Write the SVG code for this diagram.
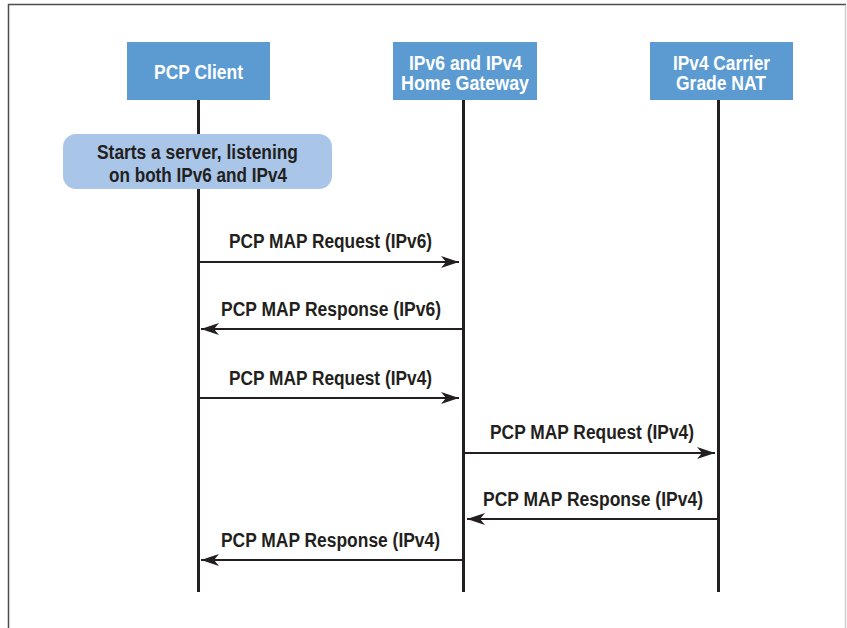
<svg xmlns="http://www.w3.org/2000/svg" width="847" height="628" viewBox="0 0 847 628">
  <style>
    .actor { fill: #5b9bd2; }
    .actor-label { font-family: "Liberation Sans Narrow", "Liberation Sans", Arial, sans-serif; font-weight: bold; font-size: 19.5px; fill: #ffffff; text-anchor: middle; }
    .lifeline { stroke: #231f20; stroke-width: 3; fill: none; }
    .msg { stroke: #231f20; stroke-width: 2; fill: none; marker-end: url(#head); }
    .msg-label { font-family: "Liberation Sans Narrow", "Liberation Sans", Arial, sans-serif; font-weight: bold; font-size: 19.5px; fill: #231f20; text-anchor: middle; }
    .note { fill: #a9c5e8; }
  </style>
  <defs>
    <marker id="head" viewBox="0 0 18 12" refX="18" refY="6" markerWidth="18" markerHeight="12" markerUnits="userSpaceOnUse" orient="auto">
      <path d="M0,0 L18,6 L0,12 L5,6 Z" fill="#231f20"/>
    </marker>
  </defs>

  <!-- page frame -->
  <rect x="0" y="0" width="847" height="628" fill="#ffffff"/>
  <path d="M8.5,628 L8.5,4.5 L846,4.5" stroke="#4d4d4f" stroke-width="1.5" fill="none"/>
  <line x1="845.5" y1="5" x2="845.5" y2="628" stroke="#cfcfcf" stroke-width="1.5"/>

  <!-- lifelines -->
  <g id="lifelines">
    <line class="lifeline" x1="198.5" y1="99" x2="198.5" y2="592"/>
    <line class="lifeline" x1="463.5" y1="99" x2="463.5" y2="592"/>
    <line class="lifeline" x1="718.5" y1="99" x2="718.5" y2="592"/>
  </g>

  <g id="pcp-client">
    <rect class="actor" x="127" y="42" width="143" height="58"/>
    <text class="actor-label" x="198.5" y="79" textLength="89" lengthAdjust="spacingAndGlyphs">PCP Client</text>
  </g>

  <g id="home-gateway">
    <rect class="actor" x="393" y="42" width="144" height="58"/>
    <text class="actor-label" x="465.5" y="70" textLength="113" lengthAdjust="spacingAndGlyphs">IPv6 and IPv4</text>
    <text class="actor-label" x="465" y="90" textLength="128" lengthAdjust="spacingAndGlyphs">Home Gateway</text>
  </g>

  <g id="carrier-nat">
    <rect class="actor" x="650" y="42" width="143" height="58"/>
    <text class="actor-label" x="721.5" y="70" textLength="97" lengthAdjust="spacingAndGlyphs">IPv4 Carrier</text>
    <text class="actor-label" x="721" y="90" textLength="90" lengthAdjust="spacingAndGlyphs">Grade NAT</text>
  </g>

  <g id="server-note">
    <rect class="note" x="63" y="134" width="269" height="55" rx="13" ry="13"/>
    <text class="msg-label" x="197.5" y="159" textLength="201" lengthAdjust="spacingAndGlyphs">Starts a server, listening</text>
    <text class="msg-label" x="198" y="182" textLength="178" lengthAdjust="spacingAndGlyphs">on both IPv6 and IPv4</text>
  </g>

  <g id="connectors">
    <line class="msg" x1="200" y1="262" x2="459" y2="262"/>
    <text class="msg-label" x="330.5" y="248" textLength="203" lengthAdjust="spacingAndGlyphs">PCP MAP Request (IPv6)</text>

    <line class="msg" x1="462" y1="329" x2="201" y2="329"/>
    <text class="msg-label" x="331" y="316" textLength="220" lengthAdjust="spacingAndGlyphs">PCP MAP Response (IPv6)</text>

    <line class="msg" x1="200" y1="398" x2="459" y2="398"/>
    <text class="msg-label" x="330.5" y="385" textLength="203" lengthAdjust="spacingAndGlyphs">PCP MAP Request (IPv4)</text>

    <line class="msg" x1="465" y1="453" x2="715" y2="453"/>
    <text class="msg-label" x="592" y="439" textLength="204" lengthAdjust="spacingAndGlyphs">PCP MAP Request (IPv4)</text>

    <line class="msg" x1="717" y1="519" x2="467" y2="519"/>
    <text class="msg-label" x="593" y="506" textLength="220" lengthAdjust="spacingAndGlyphs">PCP MAP Response (IPv4)</text>

    <line class="msg" x1="462" y1="560" x2="201" y2="560"/>
    <text class="msg-label" x="330.5" y="547" textLength="219" lengthAdjust="spacingAndGlyphs">PCP MAP Response (IPv4)</text>
  </g>
</svg>
